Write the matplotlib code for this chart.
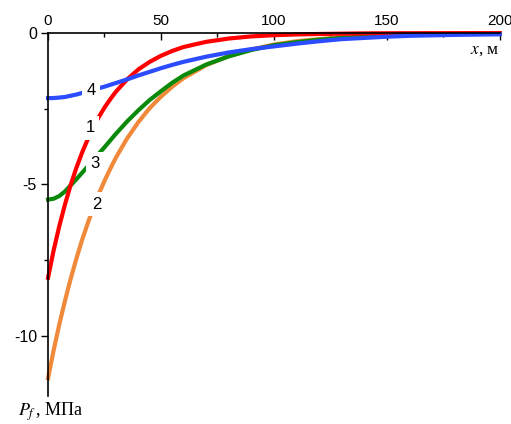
import numpy as np
import matplotlib
matplotlib.use('Agg')
import matplotlib.pyplot as plt
from matplotlib.ticker import MultipleLocator

plt.rcParams['font.family'] = 'Liberation Sans'
plt.rcParams['axes.unicode_minus'] = False
plt.rcParams['mathtext.fontset'] = 'stix'

# x, m
x = [0, 2.5, 5, 7.5, 10, 12.5, 15, 17.5, 20, 22.5, 25, 27.5, 30,
     35, 40, 45, 50, 55, 60,
     70, 80, 90, 100, 110, 120, 130, 140, 150, 160, 180, 200]

# P_f, MPa for curves 1..4
p1 = [-8.08, -7.17, -6.37, -5.66, -5.02, -4.46, -3.96, -3.52, -3.12, -2.77, -2.46, -2.19, -1.94,
      -1.53, -1.2, -0.95, -0.75, -0.59, -0.46,
      -0.29, -0.18, -0.11, -0.07, -0.045, -0.03, -0.02, -0.01, -0.006, -0.004, -0.002, 0.0]
p2 = [-11.4, -10.47, -9.62, -8.84, -8.12, -7.46, -6.85, -6.3, -5.78, -5.31, -4.88, -4.49, -4.12,
      -3.48, -2.94, -2.48, -2.1, -1.77, -1.49,
      -1.06, -0.76, -0.54, -0.38, -0.27, -0.2, -0.14, -0.1, -0.07, -0.05, -0.03, -0.01]
p3 = [-5.5, -5.47, -5.38, -5.23, -5.03, -4.83, -4.62, -4.41, -4.2, -3.98, -3.77, -3.55, -3.33,
      -2.92, -2.55, -2.21, -1.92, -1.64, -1.4,
      -1.04, -0.77, -0.56, -0.4, -0.3, -0.22, -0.16, -0.12, -0.09, -0.06, -0.03, -0.02]
p4 = [-2.15, -2.145, -2.13, -2.11, -2.07, -2.03, -1.98, -1.93, -1.88, -1.82, -1.77, -1.71, -1.65,
      -1.53, -1.4, -1.28, -1.16, -1.05, -0.95,
      -0.78, -0.64, -0.53, -0.44, -0.35, -0.27, -0.2, -0.16, -0.12, -0.09, -0.06, -0.04]

labels = ['1', '2', '3', '4']
label_x = [18.6, 21.5, 20.8, 19.0]
label_y = [-3.13, -5.65, -4.3, -1.9]

fig = plt.figure(figsize=(5.11, 4.24), dpi=100)
ax = fig.add_axes([0.094, 0.065, 0.884, 0.857])

ax.plot(x, p2, color='#f0893a', lw=3, clip_on=False)
ax.plot(x, p3, color='#0a8a0a', lw=3, clip_on=False)
ax.plot(x, p1, color='#ff0000', lw=3, clip_on=False)
ax.plot(x, p4, color='#2b4cff', lw=3, clip_on=False)

for t, lx, ly in zip(labels, label_x, label_y):
    ax.text(lx, ly, t, fontsize=12, ha='center', va='center', zorder=5,
            bbox=dict(fc='white', ec='none', pad=3))

ax.set_xlim(0, 200)
ax.set_ylim(-12, 0)
ax.spines['right'].set_visible(False)
ax.spines['bottom'].set_visible(False)
ax.spines['left'].set_linewidth(1.2)
ax.spines['top'].set_linewidth(1.2)

ax.xaxis.set_ticks_position('top')
ax.xaxis.set_label_position('top')
ax.xaxis.set_major_locator(MultipleLocator(50))
ax.xaxis.set_minor_locator(MultipleLocator(25))
ax.yaxis.set_major_locator(MultipleLocator(5))
ax.yaxis.set_minor_locator(MultipleLocator(2.5))
ax.tick_params(axis='x', which='both', direction='in', labelsize=11, pad=4)
ax.tick_params(axis='x', which='major', length=5, width=1)
ax.tick_params(axis='x', which='minor', length=3, width=1)
ax.tick_params(axis='y', which='both', direction='out', labelsize=11.5, pad=3)
ax.tick_params(axis='y', which='major', length=5, width=1)
ax.tick_params(axis='y', which='minor', length=3, width=1)

ax.text(1.0, 0.953, '$x$, м', transform=ax.transAxes, ha='right', va='center',
        fontsize=12.5, family='Liberation Serif')
ax.text(-0.066, -0.043, '$P_f\\,$, МПа', transform=ax.transAxes, ha='left', va='center',
        fontsize=13, family='Liberation Serif')

plt.savefig('out.png', dpi=100)
